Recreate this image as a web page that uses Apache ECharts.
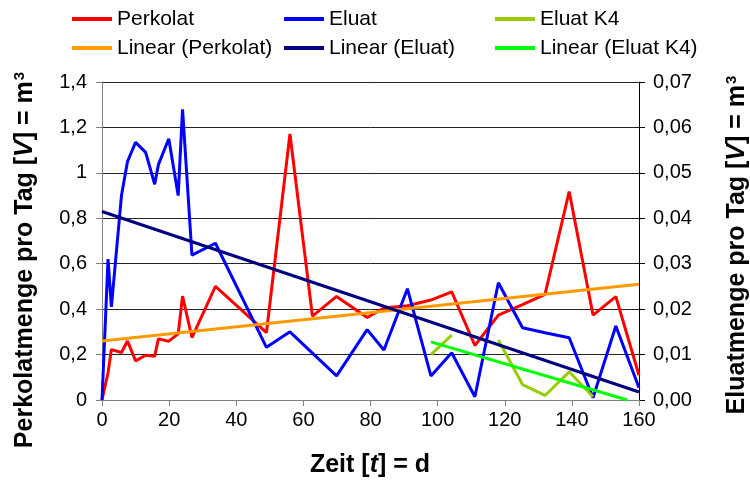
<!DOCTYPE html>
<html>
<head>
<meta charset="utf-8">
<script src="https://cdn.jsdelivr.net/npm/echarts@6/dist/echarts.min.js"></script>
<style>
  html, body { margin: 0; padding: 0; background: #fff; }
  #chart { width: 750px; height: 482px; }
</style>
</head>
<body>
<div id="chart"></div>
<script>
// Sampling days (d) and daily volumes (m³)
const days = [0, 1.8, 2.8, 5.8, 7.6, 10, 13, 15.7, 16.8, 19.9, 22.7, 24, 26.8, 33.8,
  49, 56, 62.7, 69.9, 79, 84, 91, 98, 104.2, 111.1, 118.1, 125.3, 132, 139.2, 146.3, 153.1, 160];
const perkolat = [0, 0.12, 0.222, 0.209, 0.26, 0.172, 0.197, 0.193, 0.269, 0.259, 0.291, 0.457, 0.275, 0.50,
  0.297, 1.171, 0.369, 0.456, 0.363, 0.405, 0.415, 0.44, 0.476, 0.24, 0.374, 0.42, 0.465, 0.918, 0.374, 0.455, 0.109];
const eluat = [0, 0.031, 0.0205, 0.045, 0.0525, 0.0567, 0.0545, 0.0475, 0.0518, 0.0575, 0.045, 0.064, 0.0319, 0.0345,
  0.0116, 0.015, 0.0103, 0.0053, 0.0155, 0.011, 0.0245, 0.0053, 0.0104, 0.0007, 0.0258, 0.0159, 0.0148, 0.0137, 0.0005, 0.0163, 0.0027];

// Column K4 (no value on day 111)
const k4Days = [98, 104.2, 111.1, 118.1, 125.3, 132, 139.2, 146.3];
const eluatK4 = [0.0100, 0.0143, null, 0.0132, 0.0034, 0.0010, 0.0062, 0.0007];

// Linear trend lines: start/end day and value
const trendPerkolatDays = [0, 160];
const trendPerkolat = [0.26, 0.51];
const trendEluatDays = [0, 160];
const trendEluat = [0.0415, 0.00176];
const trendK4Days = [98, 156.5];
const trendK4 = [0.0128, 0];

// Axis tick labels
const leftTicks = ['0', '0,2', '0,4', '0,6', '0,8', '1', '1,2', '1,4'];
const rightTicks = ['0,00', '0,01', '0,02', '0,03', '0,04', '0,05', '0,06', '0,07'];

const zip = (xs, ys) => xs.map((x, i) => [x, ys[i]]);
const FONT = 'Liberation Sans, Arial, sans-serif';
const TICK_SIZE = 20;
const TITLE_SIZE = 25;

const chart = echarts.init(document.getElementById('chart'), null, { renderer: 'canvas' });

const lineSeries = (name, data, color, yAxisIndex, z) => ({
  name, type: 'line', data, yAxisIndex, z,
  symbol: 'none', showSymbol: false, connectNulls: false,
  lineStyle: { color, width: 3 }, itemStyle: { color },
  emphasis: { disabled: true }, animation: false
});

const legendBase = {
  orient: 'vertical', top: 8, padding: 0, itemGap: 7,
  icon: 'rect', itemWidth: 40, itemHeight: 4,
  textStyle: { fontFamily: FONT, fontSize: 21, color: '#000', lineHeight: 22 },
  selectedMode: false
};

const richTitle = (size) => ({
  b: { fontFamily: FONT, fontSize: size, fontWeight: 'bold', fill: '#000' },
  i: { fontFamily: FONT, fontSize: size, fontWeight: 'bold', fontStyle: 'italic', fill: '#000' },
  s: { fontFamily: FONT, fontSize: Math.round(size * 0.6), fontWeight: 'bold', fill: '#000', verticalAlign: 'top', padding: [0, 0, 11, 1] }
});

chart.setOption({
  animation: false,
  backgroundColor: '#fff',
  grid: { left: 102, right: 111, top: 82, bottom: 82, containLabel: false },
  legend: [
    Object.assign({}, legendBase, { left: 72, data: ['Perkolat', 'Linear (Perkolat)'] }),
    Object.assign({}, legendBase, { left: 284, data: ['Eluat', 'Linear (Eluat)'] }),
    Object.assign({}, legendBase, { left: 495, data: ['Eluat K4', 'Linear (Eluat K4)'] })
  ],
  xAxis: {
    type: 'value', min: 0, max: 160, interval: 20,
    axisLine: { show: true, lineStyle: { color: '#808080', width: 1 } },
    axisTick: { show: true, length: 6, lineStyle: { color: '#808080' } },
    axisLabel: { fontFamily: FONT, fontSize: TICK_SIZE, color: '#000', margin: 10 },
    splitLine: { show: false }
  },
  yAxis: [
    {
      type: 'value', min: 0, max: 1.4, interval: 0.2, position: 'left',
      axisLine: { show: true, lineStyle: { color: '#808080', width: 1 } },
      axisTick: { show: true, length: 6, lineStyle: { color: '#808080' } },
      axisLabel: {
        fontFamily: FONT, fontSize: TICK_SIZE, color: '#000', margin: 15,
        formatter: (v) => leftTicks[Math.round(v / 0.2)]
      },
      splitLine: { show: true, lineStyle: { color: '#222', width: 1 } }
    },
    {
      type: 'value', min: 0, max: 0.07, interval: 0.01, position: 'right',
      axisLine: { show: true, lineStyle: { color: '#000', width: 1 } },
      axisTick: { show: true, length: 6, lineStyle: { color: '#000' } },
      axisLabel: {
        fontFamily: FONT, fontSize: TICK_SIZE, color: '#000', margin: 14,
        formatter: (v) => rightTicks[Math.round(v / 0.01)]
      },
      splitLine: { show: false }
    }
  ],
  graphic: [
    {
      type: 'text', x: 25, y: 260, rotation: Math.PI / 2,
      style: {
        text: '{b|Perkolatmenge pro Tag [}{i|V}{b|] = m}{s|3}',
        align: 'center', verticalAlign: 'middle',
        rich: richTitle(TITLE_SIZE)
      }
    },
    {
      type: 'text', x: 737, y: 245, rotation: Math.PI / 2,
      style: {
        text: '{b|Eluatmenge pro Tag [}{i|V}{b|] = m}{s|3}',
        align: 'center', verticalAlign: 'middle',
        rich: richTitle(TITLE_SIZE)
      }
    },
    {
      type: 'text', x: 370, y: 465,
      style: {
        text: '{b|Zeit [}{i|t}{b|] = d}',
        align: 'center', verticalAlign: 'middle',
        rich: richTitle(TITLE_SIZE)
      }
    }
  ],
  series: [
    lineSeries('Perkolat', zip(days, perkolat), '#FF0000', 0, 2),
    lineSeries('Eluat', zip(days, eluat), '#0000FF', 1, 3),
    lineSeries('Eluat K4', zip(k4Days, eluatK4), '#99CC00', 1, 4),
    lineSeries('Linear (Perkolat)', zip(trendPerkolatDays, trendPerkolat), '#FF9900', 0, 5),
    lineSeries('Linear (Eluat)', zip(trendEluatDays, trendEluat), '#000080', 1, 5),
    lineSeries('Linear (Eluat K4)', zip(trendK4Days, trendK4), '#00FF00', 1, 5)
  ]
});
</script>
</body>
</html>
